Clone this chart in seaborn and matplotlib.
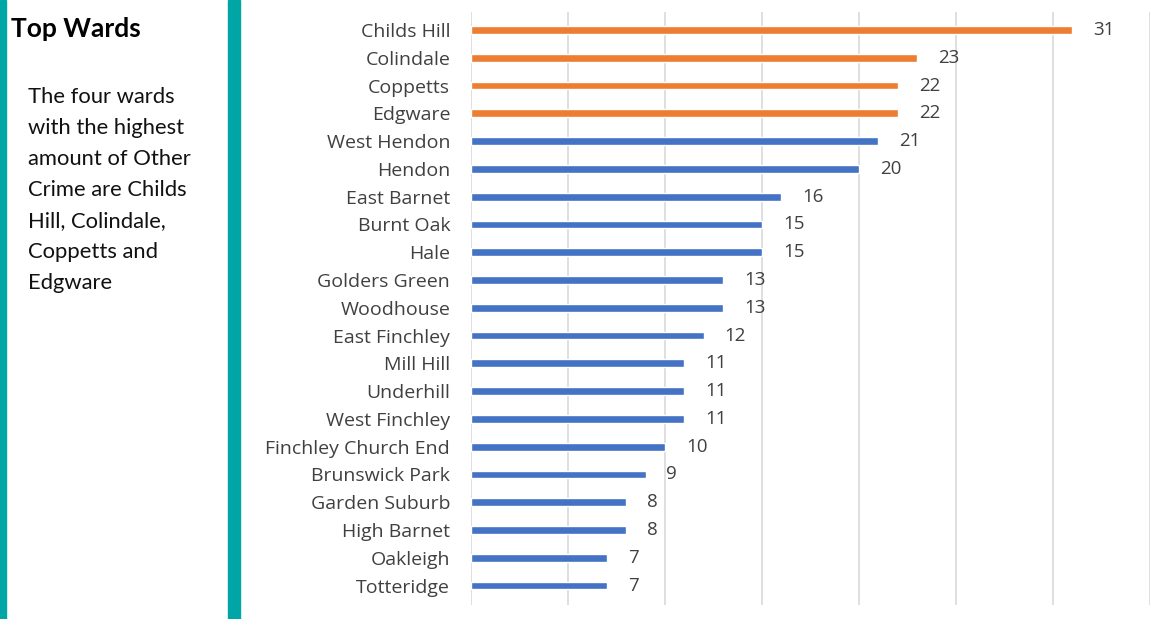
import matplotlib
matplotlib.use("Agg")
import matplotlib.pyplot as plt
import seaborn as sns
import pandas as pd

wards = ["Childs Hill", "Colindale", "Coppetts", "Edgware", "West Hendon", "Hendon",
         "East Barnet", "Burnt Oak", "Hale", "Golders Green", "Woodhouse", "East Finchley",
         "Mill Hill", "Underhill", "West Finchley", "Finchley Church End", "Brunswick Park",
         "Garden Suburb", "High Barnet", "Oakleigh", "Totteridge"]
crimes = [31, 23, 22, 22, 21, 20, 16, 15, 15, 13, 13, 12, 11, 11, 11, 10, 9, 8, 8, 7, 7]
group = ["Top"] * 4 + ["Other"] * 17

title = "Top Wards"
note = ["The four wards", "with the highest", "amount of Other",
        "Crime are Childs", "Hill, Colindale,", "Coppetts and", "Edgware"]

df = pd.DataFrame({"ward": wards, "crimes": crimes, "group": group})

sns.set_style("white")
plt.rcParams["font.family"] = ["Lato", "DejaVu Sans"]

fig = plt.figure(figsize=(11.65, 6.19), dpi=100)
teal = "#00A6A6"

# left text panel with teal borders
fig.patches.append(plt.Rectangle((0, 0), 6 / 1165, 1, transform=fig.transFigure,
                                 color=teal, zorder=0))
fig.patches.append(plt.Rectangle((228 / 1165, 0), 12 / 1165, 1, transform=fig.transFigure,
                                 color=teal, zorder=0))
fig.text(11 / 1165, 1 - 29 / 619, title, fontsize=19, fontweight="bold",
         va="center", ha="left", color="black")
for i, line in enumerate(note):
    fig.text(28 / 1165, 1 - (97 + 31 * i) / 619, line, fontsize=15.8,
             va="center", ha="left", color="#111111")

ax = fig.add_axes([471 / 1165, 14 / 619, (1150 - 471) / 1165, (607 - 14) / 619])
sns.barplot(data=df, x="crimes", y="ward", hue="group", orient="h", dodge=False,
            palette={"Top": "#ED7D31", "Other": "#4472C4"}, width=0.28,
            saturation=1, legend=False, ax=ax, zorder=3)

for c in ax.containers:
    ax.bar_label(c, padding=15, fontsize=13.5, color="#404040",
                 fontfamily=["Open Sans", "DejaVu Sans"])

ax.set_xlim(0, 35)
ax.set_xticks(range(0, 36, 5))
ax.set_ylim(20.7, -0.65)
ax.grid(axis="x", color="#D9D9D9", linewidth=1.2, zorder=0)
ax.tick_params(axis="x", length=0, labelbottom=False)
ax.tick_params(axis="y", length=0, pad=15, labelsize=14, labelcolor="#404040")
for lbl in ax.get_yticklabels():
    lbl.set_fontfamily(["Open Sans", "DejaVu Sans"])
ax.set_xlabel("")
ax.set_ylabel("")
for s in ax.spines.values():
    s.set_visible(False)

fig.savefig("out.png", dpi=100)
